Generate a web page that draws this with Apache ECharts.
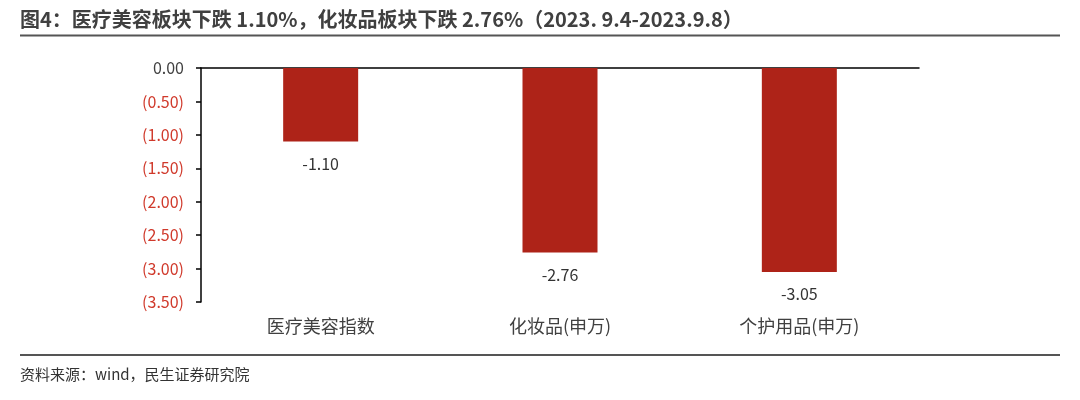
<!DOCTYPE html>
<html><head><meta charset="utf-8">
<script src="https://cdn.jsdelivr.net/npm/echarts@6/dist/echarts.min.js"></script>
<style>html,body{margin:0;padding:0;background:#fff}#c{width:1080px;height:400px}</style>
</head><body><div id="c"></div>
<script>
const categories = ['医疗美容指数', '化妆品(申万)', '个护用品(申万)'];
const values = [-1.10, -2.76, -3.05];
const yTicks = [0, -0.5, -1, -1.5, -2, -2.5, -3, -3.5];
const titleText = '图4：医疗美容板块下跌 1.10%，化妆品板块下跌 2.76%（2023. 9.4-2023.9.8）';
const sourceText = '资料来源：wind，民生证券研究院';

const chart = echarts.init(document.getElementById('c'));
const FONT = '"Noto Sans CJK SC", "Noto Sans", sans-serif';
chart.setOption({
  animation: false,
  textStyle: { fontFamily: FONT },
  grid: { left: 201, right: 161, top: 68, bottom: 98 },
  graphic: [
    { type: 'text', left: 20, top: 9, style: { text: titleText, font: 'bold 20px ' + FONT, fill: '#404040' } },
    { type: 'line', shape: { x1: 20, y1: 35.5, x2: 1060, y2: 35.5 }, style: { stroke: '#555', lineWidth: 2 } },
    { type: 'line', shape: { x1: 20, y1: 355, x2: 1060, y2: 355 }, style: { stroke: '#555', lineWidth: 2 } },
    { type: 'text', left: 20, top: 367, style: { text: sourceText, font: '15px ' + FONT, fill: '#333' } }
  ],
  xAxis: [
    {
      type: 'category', data: categories, position: 'bottom',
      axisLine: { show: false, onZero: false }, axisTick: { show: false },
      axisLabel: { color: '#404040', fontSize: 18, margin: 15, fontFamily: FONT }
    },
    {
      type: 'category', data: categories, position: 'top',
      axisLine: { show: true, onZero: false, lineStyle: { color: '#000', width: 1.5 } },
      axisTick: { show: false }, axisLabel: { show: false }
    }
  ],
  yAxis: {
    type: 'value', min: -3.5, max: 0, interval: 0.5,
    axisLine: { show: true, lineStyle: { color: '#000', width: 1.5 } },
    axisTick: { show: true, length: 5, lineStyle: { color: '#000', width: 1.5 } },
    splitLine: { show: false },
    axisLabel: {
      fontSize: 16, margin: 17, fontFamily: FONT,
      formatter: v => v === 0 ? '0.00' : '(' + Math.abs(v).toFixed(2) + ')',
      color: v => (Number(v) === 0 ? '#404040' : '#d0392b')
    }
  },
  series: [{
    type: 'bar', data: values, barWidth: 75,
    itemStyle: { color: '#AE2318' },
    label: {
      show: true, position: 'bottom', distance: 14, color: '#333', fontSize: 16, fontFamily: FONT,
      formatter: p => p.value.toFixed(2)
    }
  }]
});
</script></body></html>
